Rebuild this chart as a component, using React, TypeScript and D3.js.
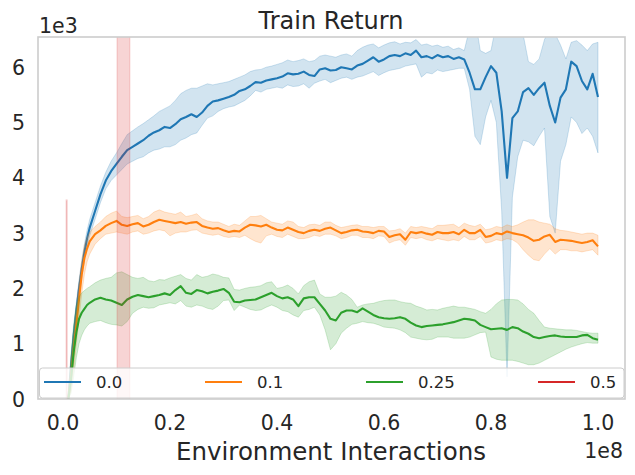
import * as d3 from "d3";

// x positions (fraction of 1e8 environment interactions)
const steps = [
  0.01, 0.015, 0.02, 0.025, 0.03, 0.035, 0.04, 0.045, 0.05,
  0.06, 0.07, 0.08, 0.09, 0.1, 0.11, 0.12, 0.13, 0.14, 0.15,
  0.16, 0.17, 0.18, 0.19, 0.2, 0.21, 0.22, 0.23, 0.24, 0.25,
  0.26, 0.27, 0.28, 0.29, 0.3, 0.31, 0.32, 0.33, 0.34, 0.35,
  0.36, 0.37, 0.38, 0.39, 0.4, 0.41, 0.42, 0.43, 0.44, 0.45,
  0.46, 0.47, 0.48, 0.49, 0.5, 0.51, 0.52, 0.53, 0.54, 0.55,
  0.56, 0.57, 0.58, 0.59, 0.6, 0.61, 0.62, 0.63, 0.64, 0.65,
  0.66, 0.67, 0.68, 0.69, 0.7, 0.71, 0.72, 0.73, 0.74, 0.75,
  0.76, 0.77, 0.78, 0.79, 0.8, 0.81, 0.82, 0.83, 0.84, 0.85,
  0.86, 0.87, 0.88, 0.89, 0.9, 0.91, 0.92, 0.93, 0.94, 0.95,
  0.96, 0.97, 0.98, 0.99, 1.0,
];

// returns in units of 1e3
const mean00 = [
  0.0, 0.6, 1.15, 1.6, 2.0, 2.35, 2.65, 2.9, 3.1,
  3.4, 3.7, 3.95, 4.12, 4.25, 4.38, 4.5, 4.56, 4.62, 4.68,
  4.76, 4.82, 4.86, 4.92, 4.9, 4.97, 5.06, 5.1, 5.15, 5.1,
  5.18, 5.3, 5.38, 5.4, 5.43, 5.46, 5.5, 5.57, 5.6, 5.66,
  5.73, 5.72, 5.76, 5.78, 5.8, 5.83, 5.89, 5.87, 5.88, 5.92,
  5.86, 5.84, 5.96, 5.98, 5.94, 5.95, 6.0, 5.98, 5.96, 6.03,
  6.06, 6.12, 6.18, 6.1, 6.14, 6.2, 6.22, 6.2, 6.25, 6.22,
  6.3, 6.18, 6.2, 6.16, 6.22, 6.18, 6.2, 6.15, 6.18, 6.14,
  5.9, 5.6, 5.6, 5.82, 6.02, 5.9, 5.2, 4.0, 5.08, 5.2,
  5.55, 5.62, 5.5, 5.62, 5.72, 5.3, 5.0, 5.45, 5.6, 6.1,
  6.02, 5.75, 5.6, 5.88, 5.46,
];
const upper00 = [
  0.05, 0.75, 1.3, 1.75, 2.15, 2.5, 2.8, 3.05, 3.25,
  3.55, 3.85, 4.1, 4.3, 4.45, 4.62, 4.78, 4.85, 4.92, 4.98,
  5.05, 5.12, 5.2, 5.25, 5.3, 5.4, 5.52, 5.58, 5.62, 5.62,
  5.66, 5.7, 5.68, 5.7, 5.72, 5.74, 5.78, 5.82, 5.86, 5.92,
  5.95, 5.96, 6.0, 6.02, 6.05, 6.08, 6.13, 6.1, 6.12, 6.15,
  6.1, 6.12, 6.2, 6.22, 6.2, 6.18, 6.22, 6.24, 6.2, 6.3,
  6.36, 6.4, 6.42, 6.35, 6.4, 6.44, 6.46, 6.42, 6.45, 6.44,
  6.5, 6.4, 6.42, 6.38, 6.4, 6.36, 6.38, 6.32, 6.35, 6.3,
  6.7, 6.9, 6.3, 6.25, 6.3, 6.8, 7.0, 7.2, 7.0, 6.8,
  6.6, 6.1, 6.05, 6.15, 6.5, 6.7, 6.6, 6.4, 6.15, 6.45,
  6.48, 6.4, 6.3, 6.42, 6.45,
];
const lower00 = [
  0.0, 0.45, 0.95, 1.45, 1.85, 2.2, 2.5, 2.75, 2.95,
  3.25, 3.55, 3.8, 3.95, 4.05, 4.15, 4.25, 4.3, 4.35, 4.38,
  4.45, 4.5, 4.52, 4.56, 4.56, 4.6, 4.68, 4.72, 4.78, 4.81,
  4.95, 5.08, 5.12, 5.2, 5.25, 5.28, 5.3, 5.35, 5.4, 5.48,
  5.58, 5.55, 5.6, 5.62, 5.64, 5.62, 5.68, 5.65, 5.66, 5.7,
  5.62, 5.71, 5.75, 5.78, 5.72, 5.76, 5.8, 5.82, 5.78, 5.82,
  5.84, 5.88, 5.92, 5.85, 5.9, 5.94, 5.96, 5.98, 6.02, 6.04,
  6.06, 5.82, 5.9, 5.88, 5.95, 5.92, 5.94, 5.96, 5.98, 5.98,
  5.6, 4.75, 4.6, 5.1, 5.4, 5.0, 3.4, 0.4, 3.65, 4.38,
  4.68, 4.65, 4.58, 4.75, 4.9, 3.3, 3.0, 4.3, 4.6, 5.1,
  5.0, 4.8, 4.9, 4.75, 4.45,
];

const mean01 = [
  0.0, 0.4, 0.9, 1.35, 1.8, 2.25, 2.55, 2.72, 2.85,
  2.98, 3.05, 3.13, 3.18, 3.22, 3.15, 3.13, 3.16, 3.18, 3.12,
  3.15, 3.2, 3.24, 3.22, 3.2, 3.18, 3.2, 3.17, 3.19, 3.2,
  3.13, 3.1, 3.08, 3.09, 3.05, 3.02, 3.04, 3.03, 3.1, 3.15,
  3.14, 3.12, 3.15, 3.1, 3.06, 3.05, 3.1, 3.06, 3.02, 3.0,
  3.04, 3.06, 3.04, 3.08, 3.1, 3.05, 3.0, 3.02, 3.05, 3.06,
  3.03, 3.02, 3.0, 3.04, 3.03, 2.93, 2.96, 2.98, 2.88, 3.02,
  3.0, 3.02, 2.99, 2.97, 3.02, 3.0, 3.0, 3.02, 2.98, 3.06,
  3.0, 3.0, 3.06, 2.93, 2.95, 3.0, 2.98, 3.03, 3.0, 2.98,
  2.96, 2.92, 2.86, 2.88, 2.94, 2.97, 2.84, 2.88, 2.87, 2.86,
  2.84, 2.82, 2.84, 2.87, 2.76,
];
const upper01 = [
  0.1, 0.7, 1.2, 1.65, 2.1, 2.5, 2.78, 2.92, 3.02,
  3.12, 3.2, 3.3, 3.36, 3.4, 3.3, 3.28, 3.3, 3.32, 3.26,
  3.3, 3.38, 3.42, 3.38, 3.36, 3.34, 3.38, 3.3, 3.32, 3.35,
  3.26, 3.22, 3.2, 3.2, 3.16, 3.12, 3.16, 3.14, 3.22, 3.3,
  3.3, 3.32, 3.26, 3.2, 3.18, 3.16, 3.22, 3.2, 3.12, 3.1,
  3.15, 3.16, 3.14, 3.2, 3.2, 3.14, 3.1, 3.12, 3.14, 3.15,
  3.12, 3.12, 3.1, 3.12, 3.12, 3.04, 3.05, 3.08, 3.0, 3.12,
  3.1, 3.12, 3.1, 3.08, 3.14, 3.14, 3.15, 3.16, 3.1, 3.18,
  3.14, 3.12, 3.16, 3.06, 3.08, 3.12, 3.1, 3.15, 3.12, 3.15,
  3.2, 3.24, 3.24, 3.2, 3.18, 3.16, 3.08, 3.05, 3.04, 3.02,
  3.0, 2.98, 3.0, 3.0, 2.96,
];
const lower01 = [
  0.0, 0.15, 0.55, 1.0, 1.45, 1.9, 2.25, 2.48, 2.62,
  2.8, 2.9, 2.98, 3.0, 3.02, 3.0, 2.98, 3.02, 3.04, 2.98,
  3.0, 3.04, 3.06, 3.04, 2.95, 3.0, 3.02, 3.02, 3.05, 3.06,
  3.0, 2.98, 2.96, 2.98, 2.94, 2.92, 2.94, 2.92, 2.96, 2.9,
  2.85, 2.82, 2.95, 2.98, 2.94, 2.92, 2.98, 2.94, 2.9, 2.9,
  2.92, 2.96, 2.94, 2.98, 2.98, 2.95, 2.9, 2.92, 2.96, 2.96,
  2.92, 2.92, 2.9, 2.95, 2.94, 2.82, 2.86, 2.88, 2.78, 2.92,
  2.9, 2.92, 2.88, 2.86, 2.9, 2.88, 2.86, 2.88, 2.86, 2.94,
  2.88, 2.88, 2.94, 2.82, 2.84, 2.88, 2.86, 2.9, 2.88, 2.82,
  2.7, 2.6, 2.52, 2.5, 2.62, 2.72, 2.62, 2.7, 2.7, 2.68,
  2.68, 2.66, 2.68, 2.7, 2.6,
];

const mean025 = [
  0.0, 0.35, 0.85, 1.2, 1.45, 1.56, 1.63, 1.7, 1.74,
  1.8, 1.83, 1.8, 1.78, 1.74, 1.7, 1.8, 1.85, 1.88, 1.86,
  1.84, 1.86, 1.88, 1.91, 1.88, 1.97, 2.04, 1.92, 1.9, 1.97,
  1.95, 1.91, 1.94, 1.96, 1.99, 1.92, 1.76, 1.75, 1.78, 1.79,
  1.8, 1.84, 1.88, 1.92, 1.86, 1.82, 1.84, 1.8, 1.68, 1.82,
  1.84, 1.84, 1.72, 1.6, 1.45, 1.42, 1.56, 1.6, 1.6, 1.57,
  1.64, 1.58, 1.52, 1.48, 1.46, 1.45, 1.46, 1.48, 1.45, 1.38,
  1.33, 1.3, 1.32, 1.33, 1.34, 1.35, 1.37, 1.39, 1.42, 1.45,
  1.44, 1.42, 1.34, 1.3, 1.26, 1.27, 1.28, 1.25, 1.3, 1.28,
  1.22, 1.18, 1.12, 1.1, 1.12, 1.14, 1.15, 1.13, 1.12, 1.12,
  1.12, 1.15, 1.16, 1.1, 1.07,
];
const upper025 = [
  0.1, 0.8, 1.35, 1.7, 1.85, 1.92, 1.96, 2.0, 2.03,
  2.1, 2.15, 2.18, 2.2, 2.28, 2.3, 2.25, 2.2, 2.18, 2.2,
  2.14, 2.12, 2.16, 2.15, 2.19, 2.22, 2.25, 2.18, 2.15, 2.25,
  2.2, 2.22, 2.26, 2.24, 2.2, 2.19, 1.98, 1.97, 2.0, 2.02,
  2.03, 2.05, 2.1, 2.12, 2.0, 2.02, 2.06, 2.0, 1.9, 2.05,
  2.12, 2.15, 1.9, 1.84, 1.84, 1.86, 1.93, 1.88, 1.8, 1.66,
  1.7, 1.72, 1.73, 1.76, 1.78, 1.79, 1.79, 1.76, 1.74, 1.73,
  1.68, 1.65, 1.61, 1.62, 1.61, 1.64, 1.66, 1.68, 1.66, 1.66,
  1.64, 1.62, 1.58, 1.55, 1.62, 1.72, 1.79, 1.8, 1.8, 1.79,
  1.72, 1.62, 1.55, 1.42, 1.3, 1.28, 1.27, 1.26, 1.25, 1.25,
  1.24, 1.22, 1.2, 1.19, 1.19,
];
const lower025 = [
  0.0, 0.1, 0.4, 0.75, 1.0, 1.15, 1.25, 1.32, 1.37,
  1.4, 1.42, 1.38, 1.35, 1.34, 1.32, 1.4, 1.55, 1.62, 1.66,
  1.64, 1.65, 1.7, 1.72, 1.74, 1.72, 1.78, 1.68, 1.66, 1.7,
  1.68, 1.64, 1.62, 1.68, 1.78, 1.79, 1.6, 1.7, 1.66, 1.62,
  1.6, 1.61, 1.66, 1.7, 1.66, 1.6, 1.58, 1.52, 1.48, 1.6,
  1.62, 1.66, 1.52, 1.25, 0.89, 1.0, 1.19, 1.28, 1.35, 1.37,
  1.4, 1.38, 1.37, 1.34, 1.3, 1.29, 1.28, 1.25, 1.2, 1.12,
  1.1, 1.08, 1.07, 1.08, 1.12, 1.12, 1.12, 1.1, 1.1, 1.1,
  1.12, 1.16, 1.2, 1.21, 0.76, 0.72, 0.7, 0.7, 0.7, 0.68,
  0.65, 0.62, 0.62, 0.65, 0.7, 0.75, 0.8, 0.85, 0.9, 0.94,
  0.97, 1.0, 1.02, 1.01, 1.01,
];

// 0.5 run: only its shaded spread is visible (two narrow spans)
const redSpanStart = [0.0058, 0.101];
const redSpanEnd = [0.0078, 0.125];
const redSpanTop = [3.6, 8];

const labels = ["0.0", "0.1", "0.25", "0.5"];
const colors = ["#1f77b4", "#ff7f0e", "#2ca02c", "#d62728"];
const xTicks = [0, 0.2, 0.4, 0.6, 0.8, 1.0];
const yTicks = [0, 1, 2, 3, 4, 5, 6];

const W = 635;
const H = 475;
const plot = { left: 38, right: 625, top: 37, bottom: 399 };
const font = "DejaVu Sans";
const ink = "#262626";

const x = d3.scaleLinear().domain([-0.0467, 1.0505]).range([plot.left, plot.right]);
const y = d3.scaleLinear().domain([0, 6.546]).range([plot.bottom, plot.top]);

const series = [
  { mean: mean00, lo: lower00, hi: upper00 },
  { mean: mean01, lo: lower01, hi: upper01 },
  { mean: mean025, lo: lower025, hi: upper025 },
];

const line = d3
  .line<number>()
  .x((_, i) => x(steps[i]))
  .y((d) => y(d));

function band(lo: number[], hi: number[]) {
  return d3
    .area<number>()
    .x((_, i) => x(steps[i]))
    .y0((_, i) => y(lo[i]))
    .y1((_, i) => y(hi[i]))(lo) as string;
}

// legend slots
const legendBox = { x: 39.5, y: 368, w: 584.5, h: 30 };
const legendHandle = [44, 205, 366, 538];

export default function App() {
  return (
    <svg
      width={W}
      height={H}
      style={{ position: "absolute", left: 0, top: 0, background: "#fff" }}
      fontFamily={font}
    >
      <defs>
        <clipPath id="plotClip">
          <rect
            x={plot.left}
            y={plot.top}
            width={plot.right - plot.left}
            height={plot.bottom - plot.top}
          />
        </clipPath>
      </defs>

      <g clipPath="url(#plotClip)">
        {series.map((s, k) => (
          <g key={k}>
            <path
              d={band(s.lo, s.hi)}
              fill={colors[k]}
              fillOpacity={0.2}
              stroke={colors[k]}
              strokeOpacity={0.2}
              strokeWidth={1}
            />
            <path
              d={line(s.mean) as string}
              fill="none"
              stroke={colors[k]}
              strokeWidth={2.1}
              strokeLinejoin="round"
            />
          </g>
        ))}
        {redSpanStart.map((s, i) => (
          <rect
            key={i}
            x={x(s)}
            width={x(redSpanEnd[i]) - x(s)}
            y={y(redSpanTop[i])}
            height={y(-1) - y(redSpanTop[i])}
            fill={colors[3]}
            fillOpacity={0.2}
            stroke={colors[3]}
            strokeOpacity={0.2}
            strokeWidth={1}
          />
        ))}
      </g>

      {/* frame */}
      <rect
        x={plot.left}
        y={plot.top}
        width={plot.right - plot.left}
        height={plot.bottom - plot.top}
        fill="none"
        stroke="#cccccc"
        strokeWidth={1.6}
      />

      {/* ticks */}
      {xTicks.map((t) => (
        <text
          key={"x" + t}
          x={x(t)}
          y={430}
          textAnchor="middle"
          fontSize={20.5}
          fill={ink}
        >
          {d3.format(".1f")(t)}
        </text>
      ))}
      {yTicks.map((t) => (
        <text
          key={"y" + t}
          x={25}
          y={y(t) + 7.5}
          textAnchor="end"
          fontSize={20.5}
          fill={ink}
        >
          {t}
        </text>
      ))}
      <text x={39} y={33} fontSize={20.5} fill={ink}>
        1e3
      </text>
      <text x={623} y={458} textAnchor="end" fontSize={20.5} fill={ink}>
        1e8
      </text>

      <text x={331} y={29} textAnchor="middle" fontSize={24} fill={ink}>
        Train Return
      </text>
      <text x={331} y={460} textAnchor="middle" fontSize={24.5} fill={ink}>
        Environment Interactions
      </text>

      {/* legend */}
      <rect
        x={legendBox.x}
        y={legendBox.y}
        width={legendBox.w}
        height={legendBox.h}
        rx={3}
        fill="#ffffff"
        fillOpacity={0.8}
        stroke="#cccccc"
        strokeWidth={1}
      />
      {labels.map((lab, i) => (
        <g key={lab}>
          <line
            x1={legendHandle[i]}
            x2={legendHandle[i] + 37}
            y1={382}
            y2={382}
            stroke={colors[i]}
            strokeWidth={2.1}
          />
          <text x={legendHandle[i] + 52} y={388} fontSize={16.5} fill={ink}>
            {lab}
          </text>
        </g>
      ))}
    </svg>
  );
}
